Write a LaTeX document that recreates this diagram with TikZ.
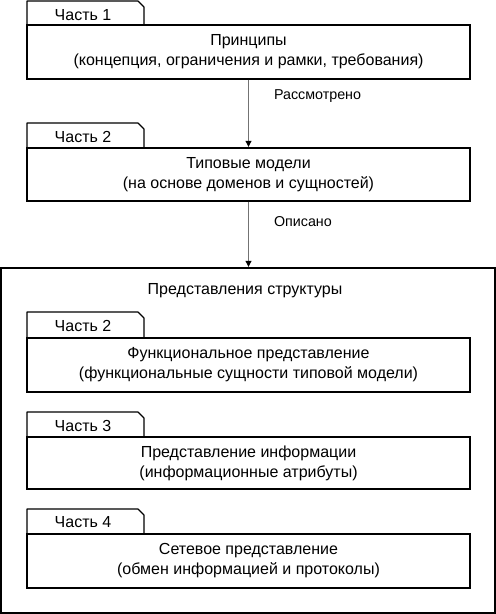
\documentclass[tikz,border=0pt]{standalone}
\usepackage{fontspec}
\setmainfont{Liberation Sans}
\usetikzlibrary{arrows.meta}
\tikzset{
  box/.style={draw=black, line width=1.2pt, minimum width=443pt, inner sep=0pt, align=center, font=\fontsize{16}{20}\selectfont},
  tabtxt/.style={font=\fontsize{16}{18}\selectfont, inner sep=0pt},
  tabline/.style={draw=black, line width=1.2pt, line join=round},
  lbl/.style={font=\fontsize{14.3}{16}\selectfont, inner sep=0pt, anchor=west},
  arr/.style={draw=black!55, line width=1pt, -{Triangle[color=black, width=6pt, length=6pt]}, shorten >=0.6pt},
}
\begin{document}
\begin{tikzpicture}[x=1pt,y=-1pt]
\useasboundingbox (0,0) rectangle (496,614);
% Part 1
\draw[tabline] (27,25) -- (27,1) -- (138,1) -- (144,7) -- (144,25);
\node[tabtxt] (t1) at (83,15) {Часть 1};
\node[box, minimum height=54pt] (b1) at (248.5,52) {Принципы\\(концепция, ограничения и рамки, требования)};
% Part 2
\draw[tabline] (27,148) -- (27,123) -- (138,123) -- (144,129) -- (144,148);
\node[tabtxt] (t2) at (83,137) {Часть 2};
\node[box, minimum height=53pt] (b2) at (248.5,174.5) {Типовые модели\\(на основе доменов и сущностей)};
% outer
\node[draw=black, line width=1.2pt, minimum width=494pt, minimum height=345pt, inner sep=0pt] (outer) at (248,440.5) {};
\node[tabtxt] (otitle) at (245,290.5) {Представления структуры};
% inner Part 2
\draw[tabline] (27,338) -- (27,312) -- (138,312) -- (144,318) -- (144,338);
\node[tabtxt] (t3) at (83,326) {Часть 2};
\node[box, minimum height=54pt] (b3) at (248.5,365) {Функциональное представление\\(функциональные сущности типовой модели)};
% Part 3
\draw[tabline] (27,437) -- (27,412) -- (138,412) -- (144,418) -- (144,437);
\node[tabtxt] (t4) at (83,425.5) {Часть 3};
\node[box, minimum height=52pt] (b4) at (248.5,463) {Представление информации\\(информационные атрибуты)};
% Part 4
\draw[tabline] (27,534) -- (27,509) -- (138,509) -- (144,515) -- (144,534);
\node[tabtxt] (t5) at (83,522.5) {Часть 4};
\node[box, minimum height=54pt] (b5) at (248.5,561) {Сетевое представление\\(обмен информацией и протоколы)};
% arrows
\draw[arr] (b1.south) -- (b2.north) node[lbl, pos=0.25, xshift=25pt] {Рассмотрено};
\draw[arr] (b2.south) -- (outer.north -| b2.south) node[lbl, pos=0.3, xshift=25pt] {Описано};
\end{tikzpicture}
\end{document}
